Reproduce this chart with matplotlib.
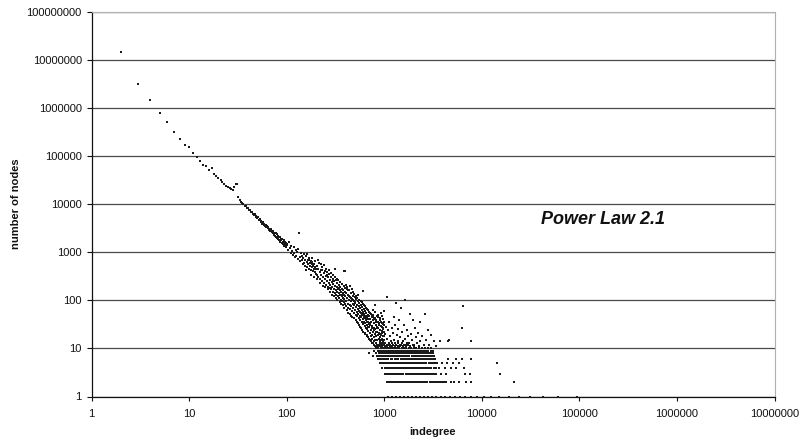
import matplotlib
matplotlib.use("Agg")
import matplotlib.pyplot as plt
from matplotlib.ticker import FixedLocator, FixedFormatter, NullLocator

# ---------------- data ----------------
# distinct leading points: indegree k -> number of nodes
lead_x = [2, 3, 4, 5, 6, 7, 8, 9, 10, 11, 12, 13, 14, 15, 16, 17, 18, 19, 20, 21,
          22, 23, 24, 25, 26, 27, 28, 29, 30, 31, 32, 33, 34]
lead_y = [1.47e7, 3.19e6, 1.44e6, 7.7e5, 5.1e5, 3.1e5, 2.26e5, 1.72e5, 1.52e5, 1.17e5,
          9.5e4, 7.8e4, 6.6e4, 6.2e4, 5.1e4, 5.6e4, 4.2e4, 3.9e4, 3.4e4, 3.2e4,
          2.9e4, 2.6e4, 2.38e4, 2.26e4, 2.19e4, 2.06e4, 2.0e4, 2.3e4, 2.6e4, 2.55e4,
          1.38e4, 1.22e4, 1.1e4]

# tight line 35..100
line_x = list(range(35, 101))
line_y = [10400, 10200, 9300, 9100, 8200, 8300, 7500, 7600, 6800, 6900,
          6300, 6000, 6100, 5400, 5600, 5000, 5300, 4600, 4800, 4200,
          4500, 3900, 4200, 3700, 3900, 3500,
          3700, 3300, 3500, 3100, 3350, 2900, 3000, 2750, 3050, 2600,
          2800, 2450, 2700, 2300, 2550, 2200, 2450, 2050, 2350, 2000,
          2200, 1850, 2100, 1750, 2050, 1650, 1900, 1750, 1550, 1850,
          1600, 1450, 1750, 1500, 1350, 1650, 1400, 1250, 1550, 1380]

# scattered cloud 100..1000
cloud_x = [102, 104, 106, 108, 110, 112, 114, 116, 118, 120, 122, 124, 126, 128, 130,
           132, 134, 136, 138, 140, 142, 144, 146, 148, 150, 152, 154, 156, 158, 160,
           162, 164, 166, 168, 170, 172, 174, 176, 178, 180, 182, 184, 186, 188, 190,
           192, 194, 196, 198, 200,
           203, 206, 209, 212, 215, 218, 221, 224, 227, 230, 233, 236, 239, 242, 245,
           248, 251, 254, 257, 260, 263, 266, 269, 272, 275, 278, 281, 284, 287, 290,
           293, 296, 299, 302, 305, 308, 310, 311, 314, 317, 320, 323, 326, 329, 332,
           335, 338, 341, 344, 347, 350, 353, 356, 359, 362, 365, 368, 371, 374, 377,
           380, 383, 386, 388, 389, 392, 395, 397, 398,
           402, 406, 410, 414, 418, 422, 426, 430, 434, 438, 442, 446, 450, 454, 458,
           462, 466, 470, 474, 478, 482, 486, 490, 494, 498, 502, 506, 510, 514, 518,
           522, 526, 530, 534, 538, 542, 546, 550, 554, 558, 562, 566, 570, 574, 578,
           582, 586, 590, 594, 598, 602, 606, 610, 613, 614, 618, 622, 626, 630, 634,
           638, 642, 646, 650, 654, 658, 662, 666, 670, 674, 678, 682, 686, 690, 694, 698,
           702, 707, 712, 717, 722, 727, 732, 737, 742, 747, 752, 757, 762, 767, 772,
           777, 782, 787, 792, 797, 800, 802, 807, 812, 817, 822, 827, 832, 837, 842,
           847, 852, 857, 862, 867, 872, 877, 882, 887, 892, 897, 902, 907, 912, 917,
           922, 927, 932, 937, 942, 947, 952, 957, 962, 967, 972, 977, 982, 987, 992, 997]
cloud_y = [1500, 1100, 1650, 1200, 980, 1350, 1050, 880, 1250, 950, 780, 1100, 850, 1000, 720,
           1150, 2450, 800, 650, 950, 700, 820, 560, 760, 900, 600, 700, 520, 820, 620,
           480, 680, 560, 740, 450, 600, 520, 650, 420, 560, 480, 620, 400, 520, 450,
           580, 380, 480, 350, 440,
           520, 340, 450, 300, 600, 380, 280, 420, 330, 250, 480, 300, 360, 230, 400,
           270, 320, 210, 380, 250, 190, 300, 230, 350, 180, 260, 210, 300, 170, 240,
           190, 280, 150, 220, 170, 250, 440, 140, 200, 160, 260, 130, 190, 150, 230,
           120, 170, 140, 210, 110, 160, 130, 190, 100, 150, 120, 175, 95, 140, 110,
           160, 90, 130, 400, 105, 150, 85, 410, 120,
           140, 95, 75, 170, 110, 85, 130, 70, 100, 160, 80, 115, 65, 95, 140,
           75, 105, 60, 85, 125, 70, 95, 55, 80, 115, 62, 88, 50, 72, 105,
           58, 80, 46, 66, 95, 52, 75, 42, 60, 88, 48, 68, 38, 55, 80,
           44, 62, 35, 50, 72, 40, 56, 32, 155, 46, 66, 36, 52, 29, 42,
           60, 33, 48, 27, 38, 55, 30, 44, 25, 35, 50, 28, 40, 23, 32, 46,
           28, 40, 21, 55, 30, 18, 36, 24, 45, 19, 29, 16, 38, 22, 50,
           17, 27, 14, 33, 20, 80, 42, 15, 25, 13, 30, 18, 36, 12, 22,
           28, 15, 45, 19, 12, 26, 16, 33, 11, 21, 14, 38, 17, 24, 11,
           29, 15, 20, 12, 34, 16, 23, 11, 27, 14, 18, 40, 12, 22, 15, 31]

# further cloud points (wider scatter) 150..1000
cloud2_x = [157, 163, 171, 177, 183, 189, 197, 205, 211, 219, 223, 229, 237, 243, 249,
            255, 261, 267, 273, 279, 286, 291, 297, 301, 307, 313, 318, 325, 331, 337,
            343, 349, 355, 361, 367, 373, 379, 385, 391, 399, 405, 411, 417, 423, 429,
            435, 441, 447, 453, 459, 465, 471, 477, 483, 489, 495, 503, 509, 515, 521,
            527, 533, 539, 545, 551, 557, 563, 569, 575, 581, 587, 593, 599, 605, 611,
            617, 623, 629, 635, 641, 647, 653, 659, 665, 671, 677, 683, 689, 695, 703,
            709, 715, 721, 729, 735, 741, 749, 755, 761, 769, 775, 783, 789, 795, 805,
            811, 819, 825, 833, 839, 845, 853, 859, 865, 873, 879, 885, 893, 899, 905,
            911, 919, 925, 931, 939, 945, 953, 959, 965, 973, 979, 985, 991, 999]
cloud2_y = [430, 900, 700, 340, 760, 310, 650, 280, 700, 230, 560, 420, 200, 540, 190,
            450, 330, 170, 420, 150, 360, 130, 330, 260, 120, 300, 110, 280, 100, 260,
            180, 90, 240, 85, 220, 130, 80, 200, 70, 180, 210, 62, 190, 55, 160,
            120, 52, 200, 48, 110, 170, 45, 100, 150, 42, 135, 90, 38, 120, 35,
            110, 65, 33, 130, 30, 100, 58, 28, 95, 26, 90, 55, 24, 85, 22,
            80, 45, 21, 75, 20, 70, 40, 19, 66, 18, 62, 35, 17, 58, 16,
            55, 33, 15, 52, 14, 48, 26, 13, 62, 13, 44, 24, 12, 40, 11,
            58, 22, 11, 38, 46, 12, 26, 35, 11, 50, 20, 30, 12, 42, 24,
            13, 35, 55, 19, 28, 12, 47, 21, 32, 13, 25, 60, 18, 35]

# sparse points above the integer rows, 1000..8000
sparse_x = [1010, 1025, 1040, 1060, 1070, 1090, 1110, 1130, 1150, 1170, 1190, 1210, 1230,
            1250, 1270, 1290, 1315, 1330, 1350, 1380, 1400, 1430, 1460, 1490, 1500, 1530,
            1560, 1600, 1640, 1650, 1680, 1720, 1760, 1800, 1830, 1870, 1920, 1970, 2000,
            2050, 2100, 2150, 2200, 2300, 2350, 2450, 2550, 2600, 2700, 2800, 2900, 3000,
            3200, 3400, 3700, 4500, 4600, 6200, 6400, 7800]
sparse_y = [13, 20, 28, 115, 16, 24, 12, 35, 18, 14, 26, 11, 21,
            45, 15, 30, 89, 12, 19, 25, 14, 38, 17, 12, 68, 22,
            14, 30, 16, 101, 12, 24, 18, 13, 53, 20, 15, 39, 12,
            26, 17, 13, 21, 36, 14, 18, 12, 53, 15, 24, 12, 19,
            14, 11, 14, 14, 15, 27, 77, 14]

# integer-count rows (x positions of points with that count)
row13_x = [905, 960, 1030, 1120, 1200, 1290, 1380, 1520, 1700]
row12_x = [880, 940, 1000, 1070, 1150, 1230, 1320, 1440, 1580, 1750, 1950]
row11_x = [850, 900, 950, 1010, 1080, 1140, 1210, 1290, 1370, 1460, 1560, 1680, 1820, 2010, 2250]
row10_x = [820, 870, 920, 965, 1010, 1060, 1110, 1170, 1230, 1290, 1360, 1430, 1510, 1590,
           1680, 1780, 1890, 2010, 2140, 2280, 2440, 2620, 2820, 3050]
row9_x = [780, 860, 905, 950, 995, 1040, 1090, 1140, 1195, 1250, 1310, 1375, 1440, 1510, 1585,
          1660, 1745, 1830, 1920, 2015, 2115, 2220, 2330, 2450, 2570, 2700, 2840, 2990, 3140]
row8_x = [700, 830, 880, 925, 970, 1015, 1065, 1115, 1170, 1225, 1285, 1345, 1410, 1480, 1550,
          1625, 1705, 1790, 1875, 1965, 2060, 2160, 2265, 2375, 2490, 2610, 2740, 2870, 3010, 3160]
row7_x = [760, 845, 890, 935, 980, 1030, 1080, 1130, 1185, 1240, 1300, 1365, 1430, 1500, 1575,
          1650, 1730, 1815, 1905, 2000, 2095, 2200, 2305, 2420, 2540, 2660, 2790, 2930, 3070, 3220]
row6_x = [870, 915, 960, 1005, 1055, 1105, 1160, 1215, 1275, 1335, 1400, 1470, 1540, 1615, 1695,
          1775, 1865, 1955, 2050, 2150, 2255, 2365, 2480, 2600, 2730, 2860, 3000, 3150, 3300,
          4500, 5500, 6300, 7800]
row5_x = [900, 945, 990, 1040, 1090, 1145, 1200, 1260, 1320, 1385, 1455, 1525, 1600, 1680, 1760,
          1850, 1940, 2035, 2135, 2240, 2350, 2465, 2585, 2710, 2845, 2985, 3130, 3280, 3450,
          3900, 4400, 5100, 5900, 14300]
row4_x = [960, 1010, 1060, 1110, 1165, 1225, 1285, 1345, 1410, 1480, 1555, 1630, 1710, 1795,
          1885, 1975, 2075, 2175, 2285, 2395, 2515, 2640, 2770, 2905, 3050, 3200, 3360, 3650,
          4200, 4800, 5400, 6600]
row3_x = [1020, 1070, 1125, 1180, 1240, 1300, 1365, 1430, 1500, 1575, 1655, 1735, 1820, 1910,
          2005, 2100, 2205, 2315, 2430, 2550, 2675, 2805, 2945, 3090, 3240, 3400, 3800, 4300,
          6800, 7600, 15200]
row2_x = [1060, 1110, 1165, 1225, 1285, 1350, 1415, 1485, 1560, 1635, 1715, 1800, 1890, 1985,
          2080, 2185, 2290, 2405, 2520, 2645, 2775, 2915, 3060, 3210, 3370, 3540, 3710, 3900,
          4100, 4300, 4800, 5200, 5900, 6900, 7700, 21400]
row1_x = [1100, 1200, 1320, 1450, 1600, 1750, 1920, 2100, 2300, 2550, 2800, 3100, 3400, 3800,
          4200, 4700, 5300, 6000, 6800, 7800, 9000, 10500, 12500, 15000, 19000, 24000, 31000,
          42000, 60000, 95000]
rows = {13: row13_x, 12: row12_x, 11: row11_x, 10: row10_x, 9: row9_x, 8: row8_x,
        7: row7_x, 6: row6_x, 5: row5_x, 4: row4_x, 3: row3_x, 2: row2_x, 1: row1_x}

x_ticks = [1, 10, 100, 1000, 10000, 100000, 1000000, 10000000]
x_tick_labels = ["1", "10", "100", "1000", "10000", "100000", "1000000", "10000000"]
y_ticks = [1, 10, 100, 1000, 10000, 100000, 1000000, 10000000, 100000000]
y_tick_labels = ["1", "10", "100", "1000", "10000", "100000", "1000000", "10000000", "100000000"]

# ---------------- figure ----------------
plt.rcParams['font.family'] = ['Liberation Sans', 'DejaVu Sans']

W, H = 808, 438
fig = plt.figure(figsize=(W / 100, H / 100), dpi=100)
left, right, top, bottom = 91.5, 774.5, 11.5, 396.5
ax = fig.add_axes([left / W, 1 - bottom / H, (right - left) / W, (bottom - top) / H])

ax.set_xscale('log')
ax.set_yscale('log')
ax.set_xlim(1, 1e7)
ax.set_ylim(1, 1e8)

all_x = lead_x + line_x + cloud_x + cloud2_x + sparse_x
all_y = lead_y + line_y + cloud_y + cloud2_y + sparse_y
for cnt, xs in rows.items():
    all_x += xs
    all_y += [cnt] * len(xs)

ax.scatter(all_x, all_y, s=1.7, marker='s', c='#1a1a1a', linewidths=0, zorder=3)

# gridlines
ax.yaxis.set_major_locator(FixedLocator(y_ticks))
ax.yaxis.set_major_formatter(FixedFormatter(y_tick_labels))
ax.yaxis.set_minor_locator(NullLocator())
ax.xaxis.set_major_locator(FixedLocator(x_ticks))
ax.xaxis.set_major_formatter(FixedFormatter(x_tick_labels))
ax.xaxis.set_minor_locator(NullLocator())
ax.grid(True, axis='y', color='#4a4a4a', linewidth=0.9, zorder=1)
ax.set_axisbelow(True)

for s in ['top', 'right']:
    ax.spines[s].set_color('#b0b0b0')
    ax.spines[s].set_linewidth(0.8)
for s in ['left', 'bottom']:
    ax.spines[s].set_color('#111111')
    ax.spines[s].set_linewidth(0.9)

ax.tick_params(axis='y', which='major', direction='out', length=3.5, width=0.8,
               pad=3.5, labelsize=8, colors='#111111')
ax.tick_params(axis='x', which='major', direction='out', length=3, width=0.8,
               pad=6, labelsize=8, colors='#111111')

ax.set_xlabel("indegree", fontsize=8, fontweight='bold', labelpad=6, color='#111111')
ax.set_ylabel("number of nodes", fontsize=8, fontweight='bold', labelpad=4, color='#111111')

ax.text((541 - left) / (right - left), (bottom - 224.5) / (bottom - top), "Power Law 2.1",
        transform=ax.transAxes, ha='left', va='baseline', fontsize=13,
        fontweight='bold', fontstyle='italic', color='#111111')

fig.savefig("out.png", dpi=100, facecolor='white')
